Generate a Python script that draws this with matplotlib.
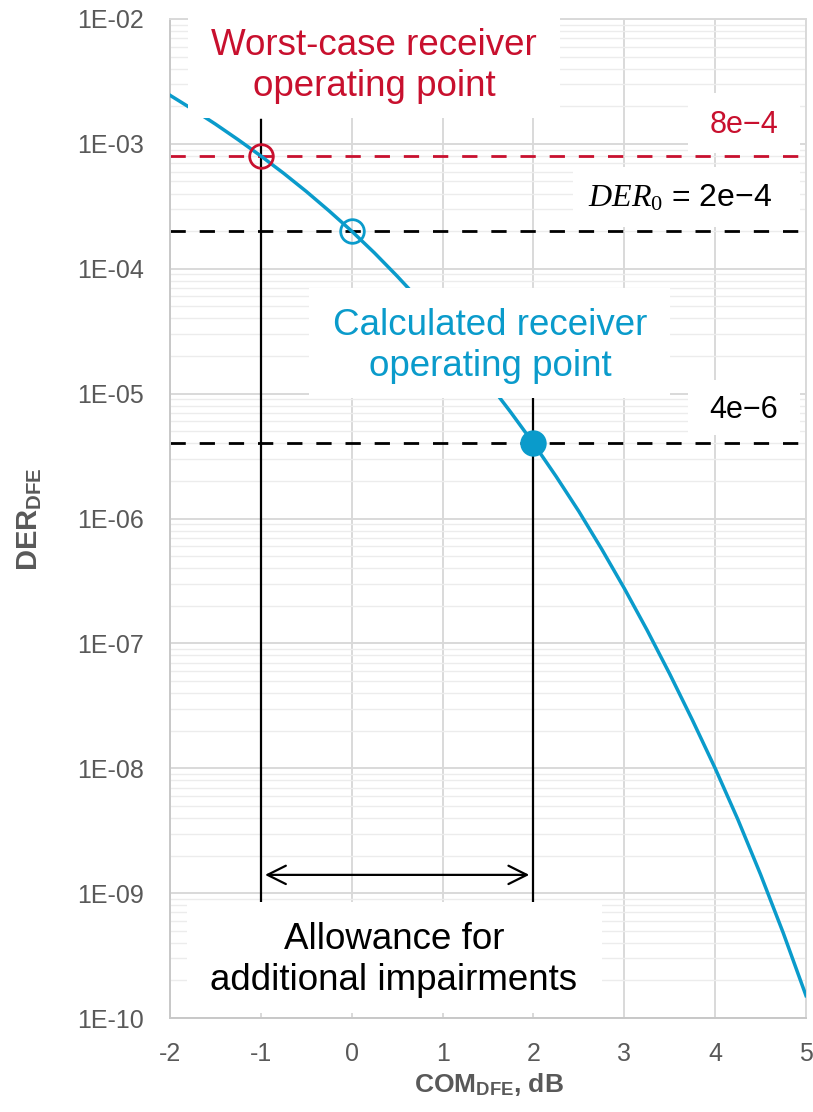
import matplotlib
matplotlib.use('Agg')
import matplotlib.pyplot as plt
from matplotlib.ticker import FixedLocator, FixedFormatter, LogLocator, NullLocator, NullFormatter
from matplotlib.patches import Rectangle

# ---- data ----
com_db = [-2.0, -1.75, -1.5, -1.25, -1.0, -0.75, -0.5, -0.25, 0.0, 0.25, 0.5, 0.75,
          1.0, 1.25, 1.5, 1.75, 2.0, 2.25, 2.5, 2.75, 3.0, 3.25, 3.5, 3.75,
          4.0, 4.25, 4.5, 4.75, 5.0]
der_dfe = [2.45e-3, 1.89e-3, 1.44e-3, 1.08e-3, 8.0e-4, 5.82e-4, 4.16e-4, 2.91e-4,
           2.0e-4, 1.34e-4, 8.73e-5, 5.56e-5, 3.45e-5, 2.09e-5, 1.23e-5, 7.10e-6,
           4.0e-6, 2.17e-6, 1.14e-6, 5.71e-7, 2.76e-7, 1.28e-7, 5.69e-8, 2.43e-8,
           1.0e-8, 3.89e-9, 1.41e-9, 4.79e-10, 1.51e-10]

x_ticks = [-2, -1, 0, 1, 2, 3, 4, 5]
x_tick_labels = ['-2', '-1', '0', '1', '2', '3', '4', '5']
y_ticks = [1e-10, 1e-9, 1e-8, 1e-7, 1e-6, 1e-5, 1e-4, 1e-3, 1e-2]
y_tick_labels = ['1E-10', '1E-09', '1E-08', '1E-07', '1E-06', '1E-05', '1E-04', '1E-03', '1E-02']

worst_x, worst_der = -1.0, 8e-4
der0_x, der0_val = 0.0, 2e-4
calc_x, calc_der = 2.0, 4e-6

worst_label = 'Worst-case receiver\noperating point'
calc_label = 'Calculated receiver\noperating point'
allow_label = 'Allowance for\nadditional impairments'
worst_val_label = '8e\u22124'
der0_label = '$DER_0$ = 2e\u22124'
calc_val_label = '4e\u22126'

# ---- style ----
RED = '#C8102E'
BLUE = '#0A9BCB'
GRAY_TXT = '#595959'
plt.rcParams['font.family'] = ['Liberation Sans', 'DejaVu Sans']
plt.rcParams['mathtext.fontset'] = 'custom'
plt.rcParams['mathtext.it'] = 'Liberation Serif:italic'
plt.rcParams['mathtext.rm'] = 'Liberation Serif'
plt.rcParams['mathtext.bf'] = 'Liberation Sans:bold'

fig = plt.figure(figsize=(8.13, 11.12), dpi=100)
ax = fig.add_axes([170/813, 1 - 1018/1112, 636/813, 999/1112])

ax.set_yscale('log')
ax.set_xlim(-2, 5)
ax.set_ylim(1e-10, 1e-2)

ax.xaxis.set_major_locator(FixedLocator(x_ticks))
ax.xaxis.set_major_formatter(FixedFormatter(x_tick_labels))
ax.xaxis.set_minor_locator(NullLocator())
ax.yaxis.set_major_locator(FixedLocator(y_ticks))
ax.yaxis.set_major_formatter(FixedFormatter(y_tick_labels))
ax.yaxis.set_minor_locator(LogLocator(base=10, subs=[2, 3, 4, 5, 6, 7, 8, 9], numticks=20))
ax.yaxis.set_minor_formatter(NullFormatter())

ax.tick_params(axis='both', which='both', length=0, labelsize=18, labelcolor=GRAY_TXT)
ax.tick_params(axis='y', pad=19)
ax.tick_params(axis='x', pad=17)

ax.grid(True, which='major', color='#D9D9D9', lw=1.4, zorder=0)
ax.grid(True, which='minor', axis='y', color='#ECECEC', lw=1.0, zorder=0)
ax.set_axisbelow(True)
for s in ['left', 'bottom']:
    ax.spines[s].set_color('#C8C8C8')
    ax.spines[s].set_linewidth(1.4)
for s in ['top', 'right']:
    ax.spines[s].set_color('#D9D9D9')
    ax.spines[s].set_linewidth(1.4)

# dashed reference levels
ax.axhline(worst_der, color=RED, lw=2.0, dashes=(5.5, 5), zorder=2)
ax.axhline(der0_val, color='black', lw=2.0, dashes=(5.5, 5), zorder=2)
ax.axhline(calc_der, color='black', lw=2.0, dashes=(5.5, 5), zorder=2)

# vertical markers
ax.plot([worst_x, worst_x], [8.5e-10, 1.55e-3], color='black', lw=1.6, zorder=2.5)
ax.plot([calc_x, calc_x], [8.5e-10, 9.3e-6], color='black', lw=1.6, zorder=2.5)

# curve
ax.plot(com_db, der_dfe, color=BLUE, lw=2.5, zorder=3, solid_joinstyle='round')

# operating points
ax.plot([worst_x], [worst_der], marker='o', ms=17, mfc='none', mec=RED, mew=2.0, zorder=4)
ax.plot([der0_x], [der0_val], marker='o', ms=17, mfc='none', mec=BLUE, mew=2.0, zorder=4)
ax.plot([calc_x], [calc_der], marker='o', ms=19, mfc=BLUE, mec=BLUE, mew=0, zorder=4)

# allowance arrow
ax.annotate('', xy=(worst_x, 1.4e-9), xytext=(calc_x, 1.4e-9),
            arrowprops=dict(arrowstyle='<->, head_length=0.4, head_width=0.2', lw=1.6,
                            color='black', shrinkA=3, shrinkB=3, mutation_scale=33),
            zorder=4)

# white label boxes (axes fraction coords)
def box(x0, y0, w, h):
    ax.add_patch(Rectangle((x0, y0), w, h, transform=ax.transAxes, facecolor='white',
                           edgecolor='none', zorder=5, clip_on=False))

box(0.0283, 0.9009, 0.585, 0.100)
box(0.8145, 0.8659, 0.176, 0.060)
box(0.6336, 0.7918, 0.357, 0.060)
box(0.8145, 0.5836, 0.176, 0.055)
box(0.2186, 0.6206, 0.5676, 0.110)
box(0.0267, 0.005, 0.6525, 0.111)

ax.text(0.3208, 0.953, worst_label, transform=ax.transAxes, ha='center', va='center',
        fontsize=26.5, color=RED, zorder=6)
ax.text(0.9025, 0.8939, worst_val_label, transform=ax.transAxes, ha='center', va='center',
        fontsize=22, color=RED, zorder=6)
ax.text(0.8019, 0.8208, der0_label, transform=ax.transAxes, ha='center', va='center',
        fontsize=23, color='black', zorder=6)
ax.text(0.9025, 0.6086, calc_val_label, transform=ax.transAxes, ha='center', va='center',
        fontsize=22, color='black', zorder=6)
ax.text(0.503, 0.6727, calc_label, transform=ax.transAxes, ha='center', va='center',
        fontsize=26.5, color=BLUE, zorder=6)
ax.text(0.352, 0.058, allow_label, transform=ax.transAxes, ha='center', va='center',
        fontsize=26.5, color='black', zorder=6)

# axis titles
fig.text(30/813, 1 - 519/1112, r'$\mathbf{DER}_{\mathbf{DFE}}$', rotation=90,
         ha='center', va='center', fontsize=21, color=GRAY_TXT)
fig.text(489/813, 1 - 1085/1112, r'$\mathbf{COM}_{\mathbf{DFE}}$, dB', ha='center', va='center',
         fontsize=19, color=GRAY_TXT, fontweight='bold')

fig.savefig('out.png', dpi=100)
